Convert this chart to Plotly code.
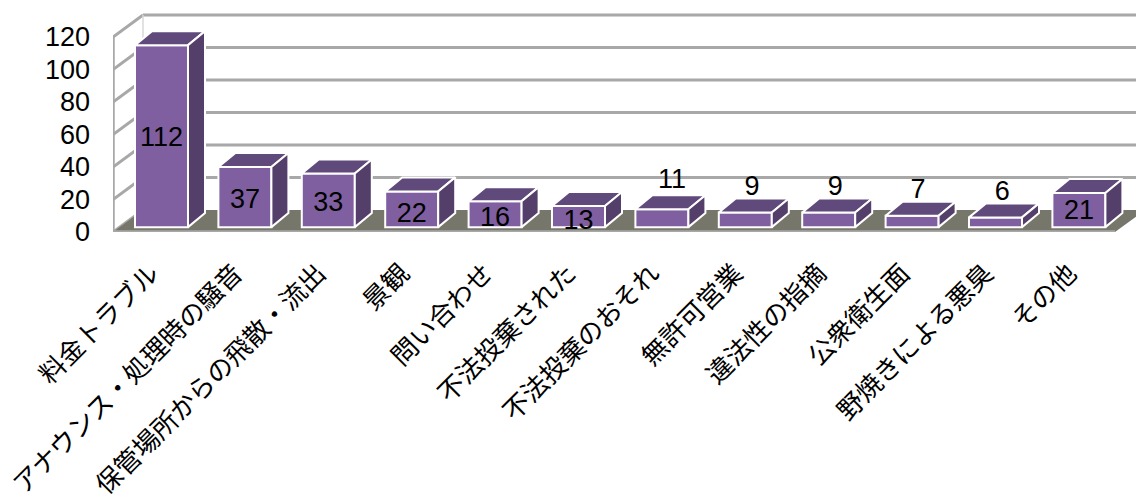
import plotly.graph_objects as go

categories = ["料金トラブル", "アナウンス・処理時の騒音", "保管場所からの飛散・流出", "景観", "問い合わせ",
              "不法投棄された", "不法投棄のおそれ", "無許可営業", "違法性の指摘", "公衆衛生面",
              "野焼きによる悪臭", "その他"]
values = [112, 37, 33, 22, 16, 13, 11, 9, 9, 7, 6, 21]
y_ticks = [0, 20, 40, 60, 80, 100, 120]
label_heights = [57, 19, 17, 10.5, 8, 6, 31.5, 27, 27, 25, 24, 12]
label_nudges = [0, 0, 0, 0, 0, 0, 0.12, 0.08, 0.08, 0.07, 0.08, 0]

W, H = 1136, 498
L, FLOOR_PX = 113, 232
PX_X, PX_Y = 83.4, 1.625
C0 = 161.5
x_lo = -(C0 - L) / PX_X
x_hi = (W - C0) / PX_X
y_hi = FLOOR_PX / PX_Y

BAR_W = 53 / PX_X
BASE = 3
DX, DY = 17 / PX_X, 14 / PX_Y          # bar depth
WALL_DX, WALL_DY = 30 / PX_X, 22 / PX_Y  # chart depth
RIGHT_FRONT = x_lo + (1115 - L) / PX_X
GRID = "#a8a8a8"
FRONT, TOP, SIDE = "#7f5fa0", "#5f4a7b", "#533f69"

shapes = []
def line(x0, y0, x1, y1, w=3, c=GRID):
    shapes.append(dict(type="line", xref="x", yref="y", x0=x0, y0=y0, x1=x1, y1=y1,
                       line=dict(color=c, width=w), layer="below"))

for t in y_ticks[1:]:
    line(x_lo + WALL_DX, t + WALL_DY, x_hi, t + WALL_DY)
for t in y_ticks:
    line(x_lo, t, x_lo + WALL_DX, t + WALL_DY)
line(x_lo, 0, x_lo, y_ticks[-1], 3.5)
line(x_lo + WALL_DX, WALL_DY, x_lo + WALL_DX, y_ticks[-1] + WALL_DY, 1.5, "#d8d8d8")
shapes.append(dict(type="path", xref="x", yref="y", layer="below", line=dict(width=0),
                   fillcolor="#77766a",
                   path=f"M{x_lo},0 L{x_lo + WALL_DX},{WALL_DY} L{x_hi + 0.02},{WALL_DY} "
                        f"L{x_hi + 0.02},{WALL_DY * 0.75} L{RIGHT_FRONT},0 Z"))
line(x_lo, 0, RIGHT_FRONT, 0, 3.5)

xs = list(range(len(categories)))
top_x, top_y, side_x, side_y = [], [], [], []
for i, v in zip(xs, values):
    a, b, h = i - BAR_W / 2, i + BAR_W / 2, BASE + v
    top_x += [a, b, b + DX, a + DX, a, None]
    top_y += [h, h, h + DY, h + DY, h, None]
    side_x += [b, b + DX, b + DX, b, b, None]
    side_y += [BASE, BASE + DY, h + DY, h, BASE, None]

fig = go.Figure()
fig.add_bar(x=xs, y=values, base=BASE, width=BAR_W, name="件数",
            marker=dict(color=FRONT, line=dict(color="#ffffff", width=2)), hoverinfo="x+y")
for px, py, col in ((top_x, top_y, TOP), (side_x, side_y, SIDE)):
    fig.add_scatter(x=px, y=py, mode="lines", fill="toself", fillcolor=col,
                    line=dict(color="#ffffff", width=2), hoverinfo="skip", showlegend=False)
fig.add_scatter(x=[i + n for i, n in zip(xs, label_nudges)], y=label_heights, mode="text",
                text=[str(v) for v in values],
                textposition="middle center", cliponaxis=False,
                textfont=dict(family="Liberation Sans, Arial", size=27, color="#000000"),
                hoverinfo="skip", showlegend=False)

fig.update_layout(
    width=W, height=H, showlegend=False, paper_bgcolor="#ffffff", plot_bgcolor="#ffffff",
    margin=dict(l=L, r=0, t=0, b=H - FLOOR_PX), shapes=shapes,
    xaxis=dict(range=[x_lo, x_hi], tickmode="array", tickvals=xs,
               ticktext=categories, automargin=False,
               tickangle=-45, showgrid=False, zeroline=False, showline=False, ticks="",
               ticklabelstandoff=20, ticklabelshift=-10,
               tickfont=dict(family="Noto Sans CJK JP", size=26, color="#000000")),
    yaxis=dict(range=[0, y_hi], tickmode="array", tickvals=y_ticks, showgrid=False, automargin=False,
               zeroline=False, showline=False, ticks="", ticklabelstandoff=22,
               tickfont=dict(family="Liberation Sans, Arial", size=27, color="#000000")),
)
fig.write_html("out.html", config={"displayModeBar": False},
               post_script="document.body.style.margin='0';document.body.style.overflow='hidden';")
